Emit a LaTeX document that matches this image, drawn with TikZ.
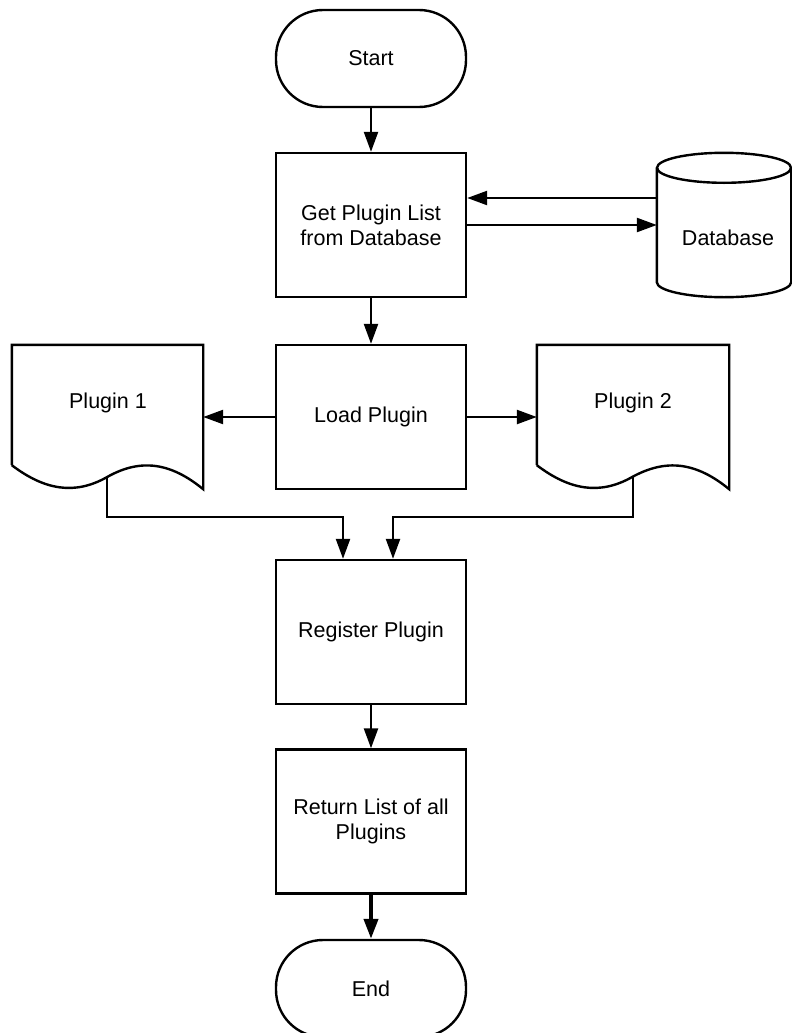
\documentclass[tikz,border=0pt]{standalone}
\usepackage{fontspec}
\setmainfont{Liberation Sans}
\usetikzlibrary{arrows.meta,calc}

\tikzset{
  line/.style={line width=2.4pt, line join=miter},
  flow/.style={line, -{Triangle[length=20pt,width=14pt]}},
  heavyflow/.style={line width=4pt, -{Triangle[length=20pt,width=14pt]}},
  basebox/.style={font=\fontsize{21.5pt}{25pt}\selectfont, align=center,
                  minimum width=190pt, inner sep=0pt},
  procbox/.style={basebox, line, draw, minimum height=144pt},
  termbox/.style={basebox, line, draw, minimum height=97pt, rounded corners=47pt},
  frame/.style={basebox, minimum height=144pt},
  caption/.style={font=\fontsize{21.5pt}{25pt}\selectfont, align=center}
}

% document outline (flat top, wavy bottom) around a frame node
\newcommand\docoutline[1]{%
  \draw[line] ($(#1.south west)+(0,-24)$) -- (#1.north west) -- (#1.north east)
    -- (#1.south east)
    .. controls ($(#1.south east)+(-33,-27)$) and ($(#1.south east)+(-63,-31)$)
    .. ($(#1.south west)+(95,-12)$)
    .. controls ($(#1.south west)+(63,6)$) and ($(#1.south west)+(33,1)$)
    .. ($(#1.south west)+(0,-24)$);
}

\begin{document}
\begin{tikzpicture}[x=1pt,y=-1pt]
  \useasboundingbox (0,0) rectangle (792,1033);

  % main column
  \node[termbox] (start) at (371,58.5) {Start};
  \node[procbox] (get)   at (371,225)  {Get Plugin List\\from Database};
  \node[procbox] (load)  at (371,417)  {Load Plugin};
  \node[procbox] (reg)   at (371,632)  {Register Plugin};
  \node[procbox] (ret)   at (371,821.5){Return List of all\\Plugins};
  \node[termbox] (end)   at (371,988.5){End};

  % database cylinder
  \node[frame, minimum width=134pt] (db) at (724,225) {};
  \path (db.north west) ++(0,15) coordinate (dbtl)
        (db.north east) ++(0,15) coordinate (dbtr)
        (db.south west) ++(0,-15) coordinate (dbbl)
        (db.south east) ++(0,-15) coordinate (dbbr);
  \draw[line] ($(db.north)+(0,15)$) ellipse [x radius=67pt, y radius=15pt];
  \draw[line] (dbtl) -- (dbbl)
     .. controls ($(dbbl)+(0,8.3)$) and ($(db.south)+(-37,0)$) .. (db.south)
     .. controls ($(db.south)+(37,0)$) and ($(dbbr)+(0,8.3)$) .. (dbbr)
     -- (dbtr);
  \node[caption] (dbtext) at (728,238) {Database};

  % plugin documents
  \node[frame, minimum width=191pt] (p1) at (107.5,417) {};
  \node[frame, minimum width=192pt] (p2) at (633,417) {};
  \docoutline{p1}
  \docoutline{p2}
  \node[caption] (p1text) at (108,403) {Plugin 1};
  \node[caption] (p2text) at (633,403) {Plugin 2};
  \coordinate (p1b) at ($(p1.south west)+(95,-12)$);
  \coordinate (p2b) at ($(p2.south west)+(96,-12)$);

  % connectors
  \draw[flow] (start) -- (get);
  \draw[flow] ([yshift=27pt]db.west) -- ([yshift=27pt]get.east);
  \draw[flow] (get.east) -- (db.west);
  \draw[flow] (get) -- (load);
  \draw[flow] (load.west) -- (p1.east);
  \draw[flow] (load.east) -- (p2.west);
  \draw[flow] (p1b) |- ($(reg.north)+(-28,-42)$) -- ([xshift=-28pt]reg.north);
  \draw[flow] (p2b) |- ($(reg.north)+(22,-42)$) -- ([xshift=22pt]reg.north);
  \draw[flow] (reg) -- (ret);
  \draw[heavyflow] (ret) -- (end);
\end{tikzpicture}
\end{document}
